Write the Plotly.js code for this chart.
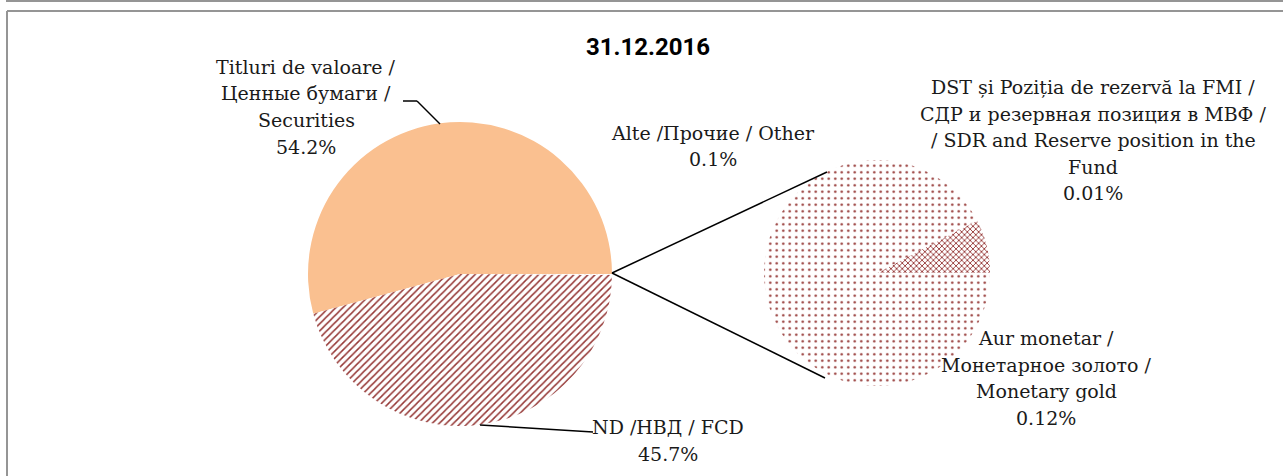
<!DOCTYPE html>
<html>
<head>
<meta charset="utf-8">
<script src="https://cdn.plot.ly/plotly-3.0.1.min.js"></script>
<style>
  html, body { margin: 0; padding: 0; background: #ffffff; }
  #chart { width: 1283px; height: 476px; }
</style>
</head>
<body>
<div id="chart"></div>
<script>
// ---------- data ----------
const chartTitle = "31.12.2016";
const mainCategories = [
  ["Titluri de valoare /", "Ценные бумаги /", "Securities"],
  ["ND /НВД / FCD"],
  ["Alte /Прочие / Other"]
];
const mainValues = [54.2, 45.7, 0.1];
const subCategories = [
  ["DST și Poziția de rezervă la FMI /", "СДР и резервная позиция в МВФ /", "/ SDR and Reserve position in the", "Fund"],
  ["Aur monetar /", "Монетарное золото /", "Monetary gold"]
];
const subValues = [0.01, 0.12];
const valueSuffix = "%";

// ---------- layout helpers (pixels -> paper) ----------
const W = 1283, H = 476;
const px = x => x / W;
const py = y => 1 - y / H;

const mainPie = { cx: 460, cy: 274, r: 152 };
const subPie = { cx: 877, cy: 273, r: 113 };

const dark = "#953735";
const peach = "#FAC090";

// first slice must start at 3 o'clock and run counterclockwise
const sum = a => a.reduce((s, v) => s + v, 0);
const startRot = vals => 90 - vals[0] / sum(vals) * 360;

const traces = [
  {
    type: "pie",
    values: mainValues,
    labels: mainCategories.map(l => l.join(" ")),
    sort: false,
    direction: "counterclockwise",
    rotation: startRot(mainValues),
    textinfo: "none",
    hoverinfo: "label+value",
    showlegend: false,
    domain: {
      x: [px(mainPie.cx - mainPie.r), px(mainPie.cx + mainPie.r)],
      y: [py(mainPie.cy + mainPie.r), py(mainPie.cy - mainPie.r)]
    },
    marker: {
      colors: [peach, "#ffffff", "#ffffff"],
      line: { width: 0 },
      pattern: {
        shape: ["", "/", "."],
        fgcolor: [peach, dark, dark],
        bgcolor: [peach, "#ffffff", "#ffffff"],
        size: [6, 5, 6],
        solidity: [0.3, 0.3, 0.12]
      }
    }
  },
  {
    type: "pie",
    values: subValues,
    labels: subCategories.map(l => l.join(" ")),
    sort: false,
    direction: "counterclockwise",
    rotation: startRot(subValues),
    textinfo: "none",
    hoverinfo: "label+value",
    showlegend: false,
    domain: {
      x: [px(subPie.cx - subPie.r), px(subPie.cx + subPie.r)],
      y: [py(subPie.cy + subPie.r), py(subPie.cy - subPie.r)]
    },
    marker: {
      colors: ["#ffffff", "#ffffff"],
      line: { width: 0 },
      pattern: {
        shape: ["x", "."],
        fgcolor: [dark, dark],
        bgcolor: ["#ffffff", "#ffffff"],
        size: [4, 6.5],
        solidity: [0.4, 0.12]
      }
    }
  }
];

// ---------- labels ----------
const lineGap = 26.5;
const labelFont = { family: "DejaVu Serif, Liberation Serif, serif", size: 19, color: "#1a1a1a" };
const labelSpecs = [
  { lines: mainCategories[0], value: mainValues[0], cx: 306, y0: 67 },
  { lines: mainCategories[1], value: mainValues[1], cx: 668, y0: 427 },
  { lines: mainCategories[2], value: mainValues[2], cx: 713, y0: 133 },
  { lines: subCategories[0], value: subValues[0], cx: 1093, y0: 87 },
  { lines: subCategories[1], value: subValues[1], cx: 1046, y0: 338 }
];
const annotations = [];
labelSpecs.forEach(s => {
  const all = s.lines.concat([s.value + valueSuffix]);
  all.forEach((t, i) => {
    annotations.push({
      xref: "paper", yref: "paper",
      x: px(s.cx), y: py(s.y0 + i * lineGap),
      xanchor: "center", yanchor: "middle",
      text: t, showarrow: false, font: labelFont
    });
  });
});

// ---------- shapes: frame, leader lines, connectors ----------
const seg = (x0, y0, x1, y1, color, width) => ({
  type: "line", xref: "paper", yref: "paper",
  x0: px(x0), y0: py(y0), x1: px(x1), y1: py(y1),
  line: { color: color, width: width }
});
const frameColor = "#959595";
const shapes = [
  seg(6, 1, W, 1, frameColor, 2),
  seg(7, 11, W, 11, frameColor, 2),
  seg(7, 11, 7, H, frameColor, 2),
  // leader lines
  seg(403, 101, 417, 101, "#000", 1.5),
  seg(417, 101, 440, 124, "#000", 1.5),
  seg(480, 425, 593, 432, "#000", 1.5),
  // connector lines main pie -> sub pie
  seg(mainPie.cx + mainPie.r, mainPie.cy - 1, 827, 172, "#000", 1.5),
  seg(mainPie.cx + mainPie.r, mainPie.cy - 1, 825, 378, "#000", 1.5)
];

const layout = {
  width: W, height: H,
  margin: { l: 0, r: 0, t: 0, b: 0 },
  paper_bgcolor: "#ffffff",
  title: {
    text: "<b>" + chartTitle + "</b>",
    x: px(648), xanchor: "center",
    y: py(47), yanchor: "middle",
    font: { family: "Roboto, Liberation Sans, sans-serif", size: 24, color: "#000" }
  },
  annotations: annotations,
  shapes: shapes
};

Plotly.newPlot("chart", traces, layout, { displayModeBar: false, staticPlot: true });
</script>
</body>
</html>
